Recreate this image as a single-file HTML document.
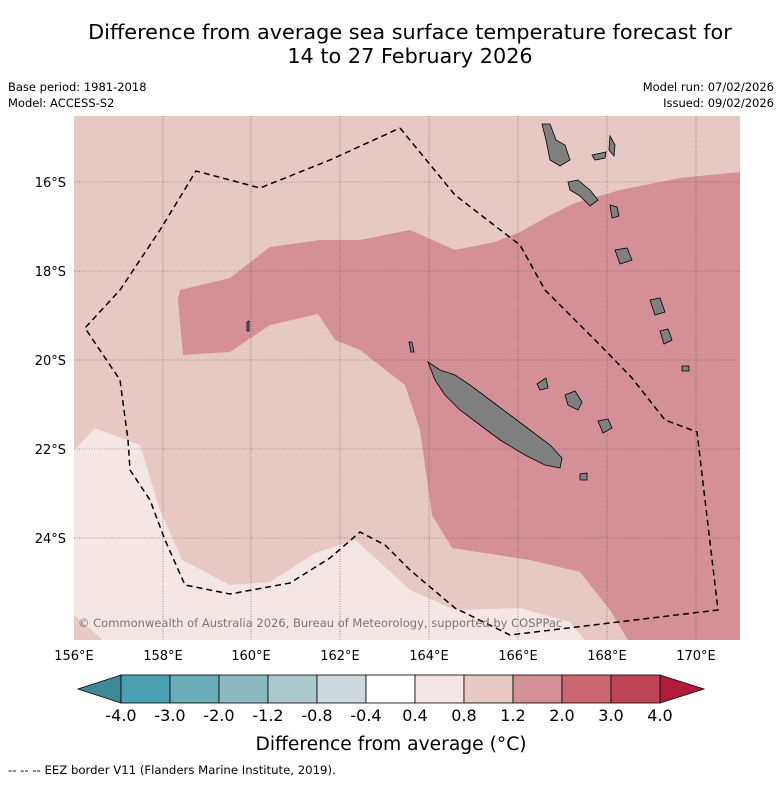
<!DOCTYPE html>
<html><head><meta charset="utf-8"><style>
body{margin:0;background:#fff;font-family:"Liberation Sans","DejaVu Sans",sans-serif}
</style></head><body>
<svg width="781" height="781" xmlns="http://www.w3.org/2000/svg" font-family="DejaVu Sans, Liberation Sans, sans-serif">
<text x="410" y="39" font-size="20.8" text-anchor="middle">Difference from average sea surface temperature forecast for</text>
<text x="410" y="63" font-size="20.8" text-anchor="middle">14 to 27 February 2026</text>
<text x="8" y="91" font-size="11.5">Base period: 1981-2018</text>
<text x="8" y="107" font-size="11.5">Model: ACCESS-S2</text>
<text x="774" y="91" font-size="11.5" text-anchor="end">Model run: 07/02/2026</text>
<text x="774" y="107" font-size="11.5" text-anchor="end">Issued: 09/02/2026</text>
<defs><clipPath id="mc"><rect x="74" y="116" width="666" height="524"/></clipPath></defs>
<g clip-path="url(#mc)">
<rect x="74" y="116" width="666" height="524" fill="#e8c8c4"/>
<polygon fill="#d58f96" points="740,172 680,178 620,190 575,203 545,218 520,232 495,242 455,250 410,230 360,240 320,240 270,247 230,278 180,290 178,300 183,355 230,352 270,325 318,314 335,340 360,350 405,385 420,430 432,515 452,548 530,560 580,572 610,610 628,640 740,640"/>
<polygon fill="#f4e6e4" points="74,450 95,428 140,445 160,510 182,560 230,585 270,582 315,553 355,540 375,558 410,590 455,610 520,608 570,622 585,640 103,640 74,615"/>
<g stroke="#555" stroke-width="0.6" stroke-dasharray="1,1.5">
<line x1="163" y1="116" x2="163" y2="640"/><line x1="251" y1="116" x2="251" y2="640"/><line x1="340" y1="116" x2="340" y2="640"/><line x1="429" y1="116" x2="429" y2="640"/><line x1="518" y1="116" x2="518" y2="640"/><line x1="607" y1="116" x2="607" y2="640"/><line x1="696" y1="116" x2="696" y2="640"/>
<line x1="74" y1="182" x2="740" y2="182"/><line x1="74" y1="271" x2="740" y2="271"/><line x1="74" y1="360" x2="740" y2="360"/><line x1="74" y1="449" x2="740" y2="449"/><line x1="74" y1="538" x2="740" y2="538"/>
</g>
<g fill="#808080" stroke="#000" stroke-width="0.8">
<polygon points="428,362 440,370 455,375 470,385 490,400 510,415 530,430 550,445 562,458 560,468 545,465 525,455 500,440 480,425 460,410 445,395 435,380"/>
<polygon points="565,395 575,391 582,402 578,410 568,405"/>
<polygon points="598,421 608,419 612,428 603,433"/>
<polygon points="537,384 546,378 548,388 540,390"/>
<polygon points="542,124 550,124 556,140 565,145 570,160 560,166 550,160 546,140"/>
<polygon points="568,182 578,180 590,190 598,200 590,206 580,196 570,190"/>
<polygon points="610,136 615,145 614,156 609,150"/>
<polygon points="592,155 606,152 605,158 595,160"/>
<polygon points="610,205 617,207 619,216 612,218"/>
<polygon points="615,250 627,248 632,260 620,264"/>
<polygon points="650,300 660,298 665,312 655,315"/>
<polygon points="660,331 668,329 672,340 664,344"/>
<polygon points="682,366 689,366 689,371 682,371"/>
<polygon points="580,474 587,473 587,480 580,480"/>
<polygon points="247,322 249,321 249,331 247,331"/>
<polygon points="409,342 412,342 414,352 411,352"/>
</g>
<polyline fill="none" stroke="#000" stroke-width="1.5" stroke-dasharray="6,4" points="400,128 455,195 490,222 520,245 545,290 575,320 600,345 632,378 665,420 697,432 718,610 510,635 455,608 410,570 385,545 360,532 330,558 290,583 230,594 185,585 165,540 150,500 130,470 128,440 120,380 85,328 120,290 160,230 196,171 260,188 330,160 400,128"/>
<text x="78" y="627" font-size="11.5" fill="#777">© Commonwealth of Australia 2026, Bureau of Meteorology, supported by COSPPac</text>
</g>
<g font-size="13">
<text x="74" y="660" text-anchor="middle">156°E</text><text x="163" y="660" text-anchor="middle">158°E</text><text x="251" y="660" text-anchor="middle">160°E</text><text x="340" y="660" text-anchor="middle">162°E</text><text x="429" y="660" text-anchor="middle">164°E</text><text x="518" y="660" text-anchor="middle">166°E</text><text x="607" y="660" text-anchor="middle">168°E</text><text x="696" y="660" text-anchor="middle">170°E</text>
<text x="66" y="187" text-anchor="end">16°S</text><text x="66" y="276" text-anchor="end">18°S</text><text x="66" y="365" text-anchor="end">20°S</text><text x="66" y="454" text-anchor="end">22°S</text><text x="66" y="543" text-anchor="end">24°S</text>
</g>
<g id="cbar"></g>
<text x="391" y="750" font-size="18.7" text-anchor="middle">Difference from average (°C)</text>
<text x="8" y="774" font-size="11.7">-- -- -- EEZ border V11 (Flanders Marine Institute, 2019).</text>
<script>
const tickLabels=["-4.0","-3.0","-2.0","-1.2","-0.8","-0.4","0.4","0.8","1.2","2.0","3.0","4.0"];
const binColors=["#4aa0b0","#6aacb8","#8cb8c2","#abc8cc","#cdd9dc","#ffffff","#f4e6e4","#e8c8c2","#d58f96","#cc6670","#bf4556"];
const extColors=["#3d8a96","#b01c3a"];
const g=document.getElementById('cbar');
const ns="http://www.w3.org/2000/svg";
const x0=121,w=49,y0=675,h=28;
function mk(t,a){const e=document.createElementNS(ns,t);for(const k in a)e.setAttribute(k,a[k]);g.appendChild(e);return e;}
const lt=mk('polygon',{points:`${x0},${y0} ${x0},${y0+h} 78,${y0+h/2}`,fill:extColors[0],stroke:'#000','stroke-width':0.8});


const xe=x0+w*binColors.length;
const rt=mk('polygon',{points:`${xe},${y0} ${xe},${y0+h} 704,${y0+h/2}`,fill:extColors[1],stroke:'#000','stroke-width':0.8});


binColors.forEach((c,i)=>{const r=mk('rect',{x:x0+i*w,y:y0,width:w,height:h,fill:c,stroke:'#000','stroke-width':0.8});

});
tickLabels.forEach((t,i)=>{const e=mk('text',{x:x0+i*w,y:721,'font-size':16,'text-anchor':'middle'});e.textContent=t;

});
</script>
</svg>
</body></html>
